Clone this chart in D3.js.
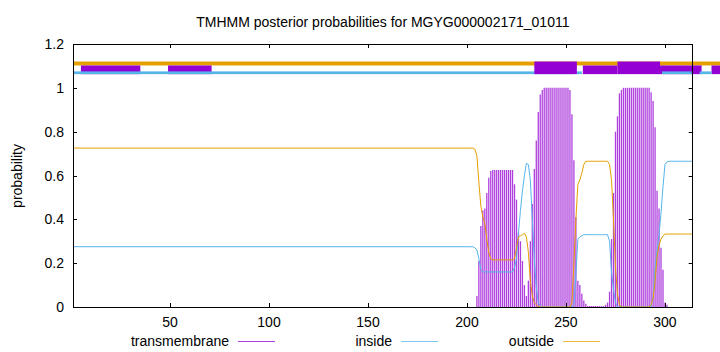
<!DOCTYPE html>
<html>
<head>
<meta charset="utf-8">
<script src="https://cdn.jsdelivr.net/npm/d3@7"></script>
<style>
    body { margin: 0; background: #fff; }
    svg { display: block; font-family: "Liberation Sans", Arial, sans-serif; }
</style>
</head>
<body>
<svg id="chart" width="720" height="352"></svg>
<script>
const title = "TMHMM posterior probabilities for MGYG000002171_01011";
const seqLength = 314;

// residues 1..200 sit on a flat plateau
const plateauOutside = 0.725;
const plateauInside = 0.275;

// per-residue values from residue 201 to 314
const firstResidue = 201;
const outside = [
    0.725, 0.725, 0.725, 0.72,
    0.69, 0.57, 0.46, 0.41, 0.38, 0.31, 0.25, 0.22,
    0.215, 0.215, 0.215, 0.215, 0.215, 0.215, 0.215, 0.215, 0.215, 0.215, 0.215,
    0.22, 0.27, 0.32, 0.325, 0.33, 0.336, 0.32, 0.25, 0.12, 0.05, 0.02, 0.01,
    0, 0, 0, 0, 0, 0, 0, 0, 0, 0, 0, 0, 0, 0, 0, 0, 0,
    0.02, 0.2, 0.4, 0.56, 0.58, 0.61, 0.65,
    0.665, 0.665, 0.665, 0.665, 0.665, 0.665, 0.665, 0.665, 0.665, 0.665, 0.665, 0.665,
    0.65, 0.58, 0.4, 0.18, 0.06, 0.01,
    0, 0, 0, 0, 0, 0, 0, 0, 0, 0, 0, 0, 0, 0, 0,
    0.01, 0.04, 0.12, 0.23, 0.28, 0.31, 0.325,
    0.333, 0.333, 0.333, 0.333, 0.333, 0.333, 0.333, 0.333, 0.333, 0.333, 0.333, 0.333, 0.333, 0.333, 0.333
];
const inside = [
    0.275, 0.275, 0.275, 0.27,
    0.26, 0.22, 0.17,
    0.16, 0.16, 0.16, 0.16, 0.16, 0.16, 0.16, 0.16, 0.16, 0.16, 0.16, 0.16, 0.16, 0.16, 0.16, 0.16,
    0.18, 0.22, 0.34, 0.44, 0.53, 0.6, 0.655, 0.65, 0.58, 0.40, 0.22, 0.09, 0.02, 0.005,
    0, 0, 0, 0, 0, 0, 0, 0, 0, 0, 0, 0, 0, 0, 0, 0,
    0.01, 0.15, 0.31, 0.32, 0.325,
    0.33, 0.33, 0.33, 0.33, 0.33, 0.33, 0.33, 0.33, 0.33, 0.33, 0.33, 0.33, 0.33,
    0.3, 0.16, 0.08, 0.02,
    0, 0, 0, 0, 0, 0, 0, 0, 0, 0, 0, 0, 0, 0, 0, 0, 0, 0,
    0.05, 0.18, 0.26, 0.33, 0.43, 0.55, 0.65, 0.662,
    0.665, 0.665, 0.665, 0.665, 0.665, 0.665, 0.665, 0.665, 0.665, 0.665, 0.665, 0.665, 0.665
];
const transmembrane = [
    0, 0, 0, 0,
    0.05, 0.21, 0.37, 0.44, 0.45, 0.52, 0.59, 0.62,
    0.625, 0.625, 0.625, 0.625, 0.625, 0.625, 0.625, 0.625, 0.625, 0.625, 0.625,
    0.56, 0.49, 0.34, 0.30, 0.21, 0.10, 0.05, 0.12, 0.30, 0.47, 0.63, 0.76, 0.89, 0.97, 0.99,
    1, 1, 1, 1, 1, 1, 1, 1, 1, 1, 1, 1, 1,
    0.99, 0.88, 0.67, 0.41, 0.12, 0.10, 0.06, 0.03, 0.015,
    0.004, 0.004, 0.004, 0.004, 0.004, 0.004, 0.004, 0.004, 0.004,
    0.01, 0.02, 0.07, 0.31, 0.52, 0.80, 0.87, 0.975, 0.99,
    1, 1, 1, 1, 1, 1, 1, 1, 1, 1, 1, 1, 1, 1,
    0.98, 0.94, 0.82, 0.53, 0.45, 0.27, 0.17, 0.02, 0.01,
    0, 0, 0, 0, 0, 0, 0, 0, 0, 0, 0, 0, 0
];

// topology tracks above the plot, in residue positions
const outsideTrack = [[1, 328]];
const tmTrack = [[5, 35], [49, 71], [258.5, 276], [297.5, 318.5], [323.5, 328]];
const insideTrack = [[1, 254], [255.5, 258], [298.5, 313.5], [317.5, 323.5]];
const helixTrack = [[234, 255.5], [276, 297.5]];

const xTicks = [50, 100, 150, 200, 250, 300];
const yTicks = [0, 0.2, 0.4, 0.6, 0.8, 1, 1.2];
const legendItems = ["transmembrane", "inside", "outside"];

const colors = { tm: "#9400d3", inside: "#56b4e9", outside: "#e69f00" };

const svg = d3.select("#chart");
const plotLeft = 73, plotRight = 692.7, plotTop = 44, plotBottom = 307;

const x = d3.scaleLinear().domain([1, seqLength]).range([plotLeft, plotRight]);
const y = d3.scaleLinear().domain([0, 1.2]).range([plotBottom, plotTop]);

const residues = outside.map((_, i) => firstResidue + i);
const series = (arr, plateau) => [[1, plateau]].concat(residues.map((r, i) => [r, arr[i]]));

// impulses
svg.append("g")
    .attr("opacity", 0.75)
    .selectAll("line")
    .data(residues.map((r, i) => [r, transmembrane[i]]).filter(d => d[1] > 0))
    .enter().append("line")
    .attr("x1", d => x(d[0])).attr("x2", d => x(d[0]))
    .attr("y1", y(0)).attr("y2", d => y(d[1]))
    .attr("stroke", colors.tm)
    .attr("stroke-width", 1.3);

const line = d3.line().x(d => x(d[0])).y(d => y(d[1]));

svg.append("path")
    .datum(series(inside, plateauInside))
    .attr("d", line)
    .attr("fill", "none")
    .attr("stroke", colors.inside)
    .attr("stroke-width", 1);

svg.append("path")
    .datum(series(outside, plateauOutside))
    .attr("d", line)
    .attr("fill", "none")
    .attr("stroke", colors.outside)
    .attr("stroke-width", 1);

// topology tracks
function drawTrack(segs, y0, y1, color) {
    svg.append("g")
        .selectAll("rect")
        .data(segs)
        .enter().append("rect")
        .attr("x", d => x(d[0]))
        .attr("width", d => x(d[1]) - x(d[0]))
        .attr("y", y(y0))
        .attr("height", y(y1) - y(y0))
        .attr("fill", color);
}
drawTrack(outsideTrack, 1.12, 1.102, colors.outside);
drawTrack(tmTrack, 1.102, 1.0625, colors.tm);
drawTrack(insideTrack, 1.075, 1.0625, colors.inside);
drawTrack(helixTrack, 1.12, 1.0625, colors.tm);

// axes (gnuplot style: inward ticks, mirrored)
const tickLen = 4;
const axes = svg.append("g").attr("stroke", "#000").attr("stroke-width", 1);
xTicks.forEach(t => {
    const px = Math.round(x(t)) + 0.5;
    axes.append("line").attr("x1", px).attr("x2", px).attr("y1", plotBottom).attr("y2", plotBottom - tickLen);
    axes.append("line").attr("x1", px).attr("x2", px).attr("y1", plotTop).attr("y2", plotTop + tickLen);
});
yTicks.forEach(t => {
    const py = Math.round(y(t)) + 0.5;
    axes.append("line").attr("x1", plotLeft).attr("x2", plotLeft + tickLen).attr("y1", py).attr("y2", py);
    axes.append("line").attr("x1", plotRight).attr("x2", plotRight - tickLen).attr("y1", py).attr("y2", py);
});
svg.append("rect")
    .attr("x", plotLeft + 0.5).attr("y", plotTop + 0.5)
    .attr("width", Math.round(plotRight - plotLeft) - 1).attr("height", plotBottom - plotTop)
    .attr("fill", "none").attr("stroke", "#000").attr("stroke-width", 1);

svg.append("g").selectAll("text")
    .data(xTicks).enter().append("text")
    .attr("x", d => x(d)).attr("y", 327)
    .attr("text-anchor", "middle")
    .attr("font-size", 14)
    .text(d => d);

svg.append("g").selectAll("text")
    .data(yTicks).enter().append("text")
    .attr("x", 64).attr("y", d => y(d) + 5)
    .attr("text-anchor", "end")
    .attr("font-size", 14)
    .text(d => d);

svg.append("text")
    .attr("transform", "translate(22,176) rotate(-90)")
    .attr("text-anchor", "middle")
    .attr("font-size", 14)
    .text("probability");

svg.append("text")
    .attr("x", (plotLeft + plotRight) / 2).attr("y", 27)
    .attr("text-anchor", "middle")
    .attr("font-size", 14)
    .text(title);

// legend
const legendX = [229, 392, 554];
const legendColors = [colors.tm, colors.inside, colors.outside];
legendItems.forEach((name, i) => {
    svg.append("text")
        .attr("x", legendX[i]).attr("y", 346)
        .attr("text-anchor", "end")
        .attr("font-size", 14)
        .text(name);
    svg.append("line")
        .attr("x1", legendX[i] + 9).attr("x2", legendX[i] + 46)
        .attr("y1", 341.5).attr("y2", 341.5)
        .attr("stroke", legendColors[i])
        .attr("stroke-opacity", 0.75)
        .attr("stroke-width", 1);
});
</script>
</body>
</html>
